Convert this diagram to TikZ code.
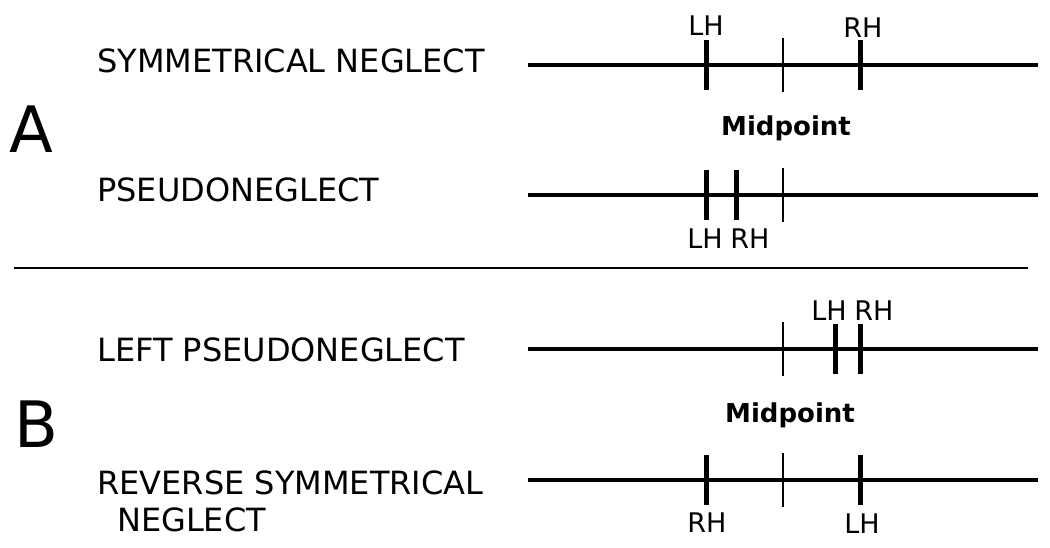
\documentclass[tikz,border=0pt]{standalone}
\usepackage{fontspec}
\setmainfont{DejaVu Sans}
\begin{document}
\begin{tikzpicture}[x=1pt, y=-1pt,
    axisline/.style={line width=4pt},
    headtick/.style={line width=5pt},
    midtick/.style={line width=1.5pt},
    caption/.style={anchor=base west, inner sep=0pt, font=\fontsize{32}{34}\selectfont},
    panel/.style={anchor=base west, inner sep=0pt, font=\fontsize{64}{66}\selectfont},
    hemi/.style={anchor=base, inner sep=0pt, font=\fontsize{27}{29}\selectfont},
    midlabel/.style={anchor=base, inner sep=0pt, font=\fontsize{26}{28}\selectfont\bfseries}]

    \useasboundingbox (0,0) rectangle (1050,547);

    % line params
    \def\lineStart{528}
    \def\lineEnd{1038}
    \def\midX{783}
    \def\tickLen{25}
    \def\midLen{27}

    % heights of the four lines
    \def\yOne{65}
    \def\yTwo{195}
    \def\yThree{349}
    \def\yFour{480}

    %% panel A
    \node[panel] (labA) at (9,152) {A};
    \node[caption] (symN) at (97,72) {SYMMETRICAL NEGLECT};
    \node[caption] (pseudoN) at (97,201) {PSEUDONEGLECT};

    % draw first line
    \draw[axisline] (\lineStart,\yOne) -- (\lineEnd,\yOne);
    \draw[midtick] (\midX,\yOne-\midLen) -- (\midX,\yOne+\midLen);
    \draw[headtick] (706,\yOne-\tickLen) -- (706,\yOne+\tickLen);
    \draw[headtick] (860,\yOne-\tickLen) -- (860,\yOne+\tickLen);
    \node[hemi] (lhOne) at (706,35) {LH};
    \node[hemi] (rhOne) at (863,37) {RH};

    \node[midlabel] (midA) at (786,135) {Midpoint};

    % draw second line
    \draw[axisline] (\lineStart,\yTwo) -- (\lineEnd,\yTwo);
    \draw[midtick] (\midX,\yTwo-\midLen) -- (\midX,\yTwo+\midLen);
    \draw[headtick] (706,\yTwo-\tickLen) -- (706,\yTwo+\tickLen);
    \draw[headtick] (736,\yTwo-\tickLen) -- (736,\yTwo+\tickLen);
    \node[hemi] (lhTwo) at (705,248) {LH};
    \node[hemi] (rhTwo) at (750,248) {RH};

    % separator
    \draw[line width=1.5pt] (14,268) -- (1028,268);

    %% panel B
    \node[panel] (labB) at (14,447) {B};
    \node[caption] (leftPN) at (97,361) {LEFT PSEUDONEGLECT};
    \node[caption] (revSN) at (97,494) {REVERSE SYMMETRICAL};
    \node[caption] (revSNb) at (117,531) {NEGLECT};

    % draw third line
    \draw[axisline] (\lineStart,\yThree) -- (\lineEnd,\yThree);
    \draw[midtick] (\midX,\yThree-\midLen) -- (\midX,\yThree+\midLen);
    \draw[headtick] (835,\yThree-\tickLen) -- (835,\yThree+\tickLen);
    \draw[headtick] (860,\yThree-\tickLen) -- (860,\yThree+\tickLen);
    \node[hemi] (lhThree) at (829,320) {LH};
    \node[hemi] (rhThree) at (874,320) {RH};

    \node[midlabel] (midB) at (790,422) {Midpoint};

    % draw fourth line
    \draw[axisline] (\lineStart,\yFour) -- (\lineEnd,\yFour);
    \draw[midtick] (\midX,\yFour-\midLen) -- (\midX,\yFour+\midLen);
    \draw[headtick] (706,\yFour-\tickLen) -- (706,\yFour+\tickLen);
    \draw[headtick] (860,\yFour-\tickLen) -- (860,\yFour+\tickLen);
    \node[hemi] (rhFour) at (707,532) {RH};
    \node[hemi] (lhFour) at (862,533) {LH};

\end{tikzpicture}
\end{document}
